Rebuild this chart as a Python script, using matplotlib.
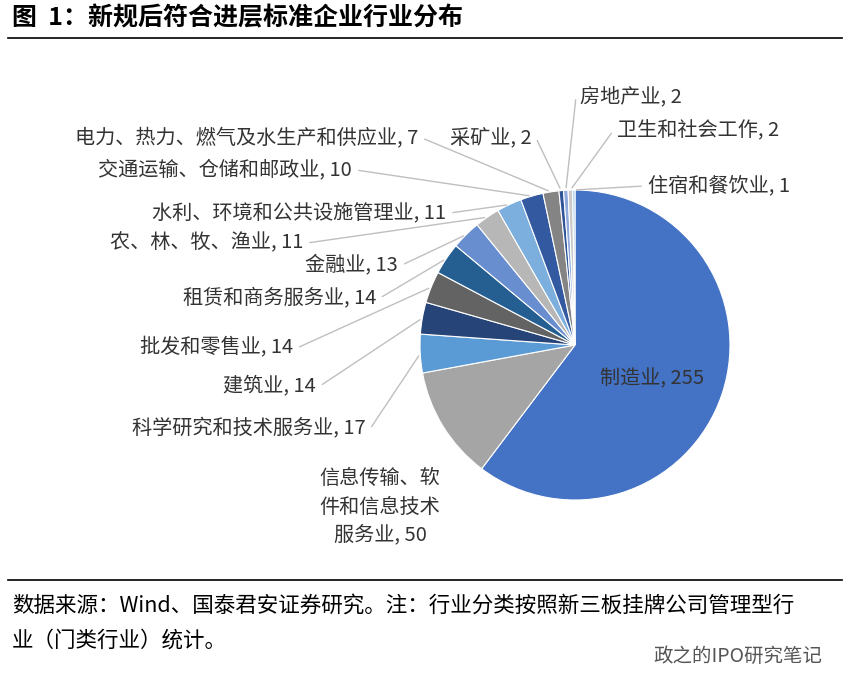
import matplotlib
matplotlib.use("Agg")
import matplotlib.pyplot as plt
import numpy as np

plt.rcParams['font.family'] = ['Noto Sans CJK SC', 'DejaVu Sans']

categories = ["制造业", "信息传输、软\n件和信息技术\n服务业", "科学研究和技术服务业", "建筑业", "批发和零售业",
              "租赁和商务服务业", "金融业", "农、林、牧、渔业", "水利、环境和公共设施管理业",
              "交通运输、仓储和邮政业", "电力、热力、燃气及水生产和供应业", "采矿业", "房地产业",
              "卫生和社会工作", "住宿和餐饮业"]
values = [255, 50, 17, 14, 14, 14, 13, 11, 11, 10, 7, 2, 2, 2, 1]
colors = ["#4472C4", "#A5A5A5", "#5B9BD5", "#264478", "#636363", "#255E91", "#698ED0",
          "#B7B7B7", "#7CAFDD", "#335AA1", "#848484", "#2F5597", "#8FAADC", "#C9C9C9", "#9DC3E6"]
label_pos = [None, (380, 507, 'center'), (366, 429, 'right'), (316, 386, 'right'), (293, 348, 'right'),
             (376, 298, 'right'), (398, 265, 'right'), (303, 243, 'right'), (446, 213, 'right'),
             (352, 170, 'right'), (418, 138, 'right'), (532, 138, 'right'), (580, 97, 'left'),
             (617, 131, 'left'), (648, 186, 'left')]

W, H = 850, 694
fig = plt.figure(figsize=(W / 100, H / 100), dpi=100)
ax = fig.add_axes([420 / W, (H - 500) / H, 310 / W, 310 / H])
wedges, _ = ax.pie(values, colors=colors, startangle=90, counterclock=False,
                   wedgeprops=dict(edgecolor='white', linewidth=0.8))
ax.set_xlim(-1, 1); ax.set_ylim(-1, 1); ax.set_aspect('equal')

fs = 14.5
for w, cat, v, lp in zip(wedges, categories, values, label_pos):
    ang = np.deg2rad((w.theta1 + w.theta2) / 2)
    if lp is None:
        ax.text(0.5, -0.22, f"{cat}, {v}", fontsize=fs, ha='center', va='center', color='#333333')
        continue
    x, y, ha = lp
    if ha == 'center':
        fig.text(x / W, 1 - y / H, f"{cat}, {v}", fontsize=fs, ha='center', va='center', color='#333333',
                 linespacing=1.45)
        continue
    fig.text(x / W, 1 - y / H, f"{cat}, {v}", fontsize=fs, ha=ha, va='center', color='#333333')
    ex, ey = np.cos(ang), np.sin(ang)
    sx = x + (4 if ha == 'right' else -4)
    ax.annotate("", xy=(ex, ey), xycoords='data', xytext=(sx, H - y), textcoords='figure pixels',
                arrowprops=dict(arrowstyle='-', color='#BFBFBF', lw=1))

fig.text(12 / W, 1 - 18 / H, "图  1：新规后符合进层标准企业行业分布", fontsize=18, fontweight='bold',
         ha='left', va='center', color='black')
fig.add_artist(plt.Line2D([8 / W, 842 / W], [1 - 38 / H, 1 - 38 / H], color='black', lw=1.2))
fig.add_artist(plt.Line2D([8 / W, 842 / W], [1 - 580 / H, 1 - 580 / H], color='black', lw=1.2))
fig.text(12 / W, 1 - 606 / H, "数据来源：Wind、国泰君安证券研究。注：行业分类按照新三板挂牌公司管理型行",
         fontsize=15.5, ha='left', va='center')
fig.text(12 / W, 1 - 641 / H, "业（门类行业）统计。", fontsize=15.5, ha='left', va='center')
fig.text(822 / W, 1 - 656 / H, "政之的IPO研究笔记", fontsize=14, ha='right', va='center', color='#555555')

fig.savefig("out.png", dpi=100)
